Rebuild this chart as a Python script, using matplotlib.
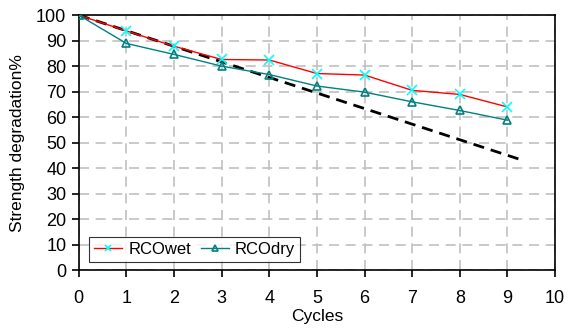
import matplotlib as mpl
mpl.use('Agg')
import matplotlib.pyplot as plt

mpl.rcParams.update({
    "font.family": ["Liberation Sans", "DejaVu Sans"],
    "font.size": 12.5,
})

cycles = [0, 1, 2, 3, 4, 5, 6, 7, 8, 9]
rco_wet = [100, 93.8, 87.8, 82.6, 82.4, 77.1, 76.5, 70.5, 68.9, 64.0]
rco_dry = [100, 88.9, 84.6, 80.0, 76.7, 72.2, 69.8, 66.0, 62.6, 58.8]
trend_x = [0, 9.3]
trend_y = [100, 43.2]

fig = plt.figure(figsize=(5.71, 3.29), dpi=100)
ax = fig.add_axes([0.138, 0.179, 0.834, 0.775])

ax.plot(trend_x, trend_y, color='black', linestyle=(0, (4, 2.5)), linewidth=2, zorder=2)
ax.plot(cycles, rco_wet, color='red', linewidth=1, marker='x', markersize=7,
        markeredgecolor='cyan', markeredgewidth=1.2, label='RCOwet', zorder=3)
ax.plot(cycles, rco_dry, color='#008080', linewidth=1, marker='^', markersize=6,
        markerfacecolor='none', markeredgecolor='#008080', markeredgewidth=1.2,
        label='RCOdry', zorder=3)

ax.set_xlim(0, 10)
ax.set_ylim(0, 100)
ax.set_xticks(range(0, 11))
ax.set_yticks(range(0, 101, 10))
ax.grid(True, color='#c0c0c0', linestyle=(0, (6, 4)), linewidth=1.2, zorder=0)
ax.set_axisbelow(True)
ax.tick_params(direction='out', length=5, width=1.2, labelsize=13, pad=4)
ax.tick_params(axis='x', pad=9)
for s in ax.spines.values():
    s.set_linewidth(1.2)

ax.set_xlabel('Cycles', fontsize=12.5, labelpad=2)
ax.set_ylabel('Strength degradation%', fontsize=12.5, labelpad=8)

leg = ax.legend(loc='lower left', ncol=2, bbox_to_anchor=(0.004, 0.0), frameon=True,
                fancybox=False, edgecolor='black', fontsize=12, handlelength=1.7,
                columnspacing=0.6, handletextpad=0.35, borderpad=0.3, markerscale=0.7,
                borderaxespad=0.5)
leg.get_frame().set_linewidth(0.8)

plt.savefig('out.png', dpi=100)
